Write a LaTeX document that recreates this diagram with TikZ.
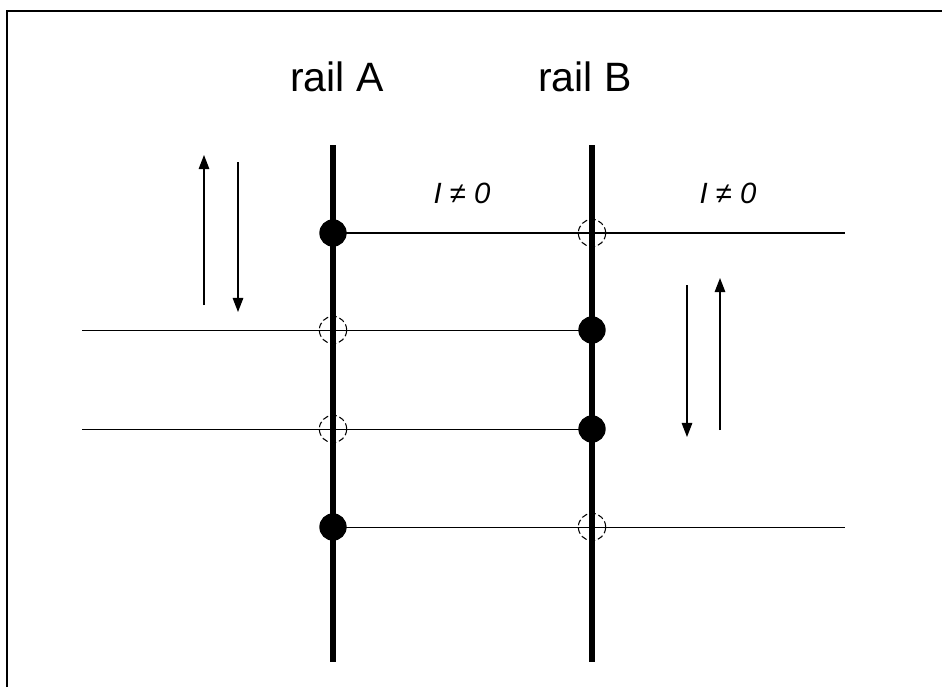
\documentclass[tikz,border=0pt]{standalone}
\usepackage{fontspec}
\setmainfont{Liberation Sans}
\usetikzlibrary{arrows.meta}
\begin{document}
\begin{tikzpicture}[x=0.03cm,y=-0.03cm,
  rail/.style={line width=4.3pt},
  wire/.style={line width=1.1pt},
  wirethin/.style={line width=0.8pt},
  fulldot/.style={circle,fill=black,inner sep=0pt,minimum size=0.82cm},
  opendot/.style={circle,draw=black,dash pattern=on 5pt off 2.5pt,line width=0.9pt,inner sep=0pt,minimum size=0.82cm},
  flow/.style={line width=1.1pt,-{Triangle[length=12pt,width=9pt]}},
  lbl/.style={font=\fontsize{35}{40}\selectfont,inner sep=0pt},
  cur/.style={font=\itshape\fontsize{25}{28}\selectfont,inner sep=0pt}]
\useasboundingbox (0,0) rectangle (942,687);
\fill[white] (0,0) rectangle (942,687);
% frame (top and left edges)
\draw[line width=1.6pt] (7,687) -- (7,11) -- (942,11);
% rails
\coordinate (Atop) at (333,145);
\coordinate (Abot) at (333,662);
\coordinate (Btop) at (592,145);
\coordinate (Bbot) at (592,662);
% free ends of wires
\coordinate (r1) at (845,233);
\coordinate (l2) at (82,330);
\coordinate (l3) at (82,429);
\coordinate (r4) at (845,527);
% crossing points
\coordinate (A1) at (333,233);
\coordinate (B1) at (592,233);
\coordinate (A2) at (333,330);
\coordinate (B2) at (592,330);
\coordinate (A3) at (333,429);
\coordinate (B3) at (592,429);
\coordinate (A4) at (333,527);
\coordinate (B4) at (592,527);
% wires
\draw[wire] (A1) -- (r1);
\draw[wirethin] (l2) -- (B2);
\draw[wirethin] (l3) -- (B3);
\draw[wirethin] (A4) -- (r4);
% rails
\draw[rail] (Atop) -- (Abot);
\draw[rail] (Btop) -- (Bbot);
% contacts
\node[fulldot] (a1) at (A1) {};
\node[opendot] (b1) at (B1) {};
\node[opendot] (a2) at (A2) {};
\node[fulldot] (b2) at (B2) {};
\node[opendot] (a3) at (A3) {};
\node[fulldot] (b3) at (B3) {};
\node[fulldot] (a4) at (A4) {};
\node[opendot] (b4) at (B4) {};
% labels
\node[lbl] (la) at (337,77) {rail A};
\node[lbl] (lb) at (585,77) {rail B};
\node[cur] (c1) at (462,193) {I ≠ 0};
\node[cur] (c2) at (728,193) {I ≠ 0};
% arrows
\coordinate (u1s) at (204,305);
\coordinate (u1e) at (204,155);
\coordinate (d1s) at (238,162);
\coordinate (d1e) at (238,312);
\coordinate (d2s) at (687,285);
\coordinate (d2e) at (687,437);
\coordinate (u2s) at (720,430);
\coordinate (u2e) at (720,278);
\draw[flow] (u1s) -- (u1e);
\draw[flow] (d1s) -- (d1e);
\draw[flow] (d2s) -- (d2e);
\draw[flow] (u2s) -- (u2e);
\end{tikzpicture}
\end{document}
